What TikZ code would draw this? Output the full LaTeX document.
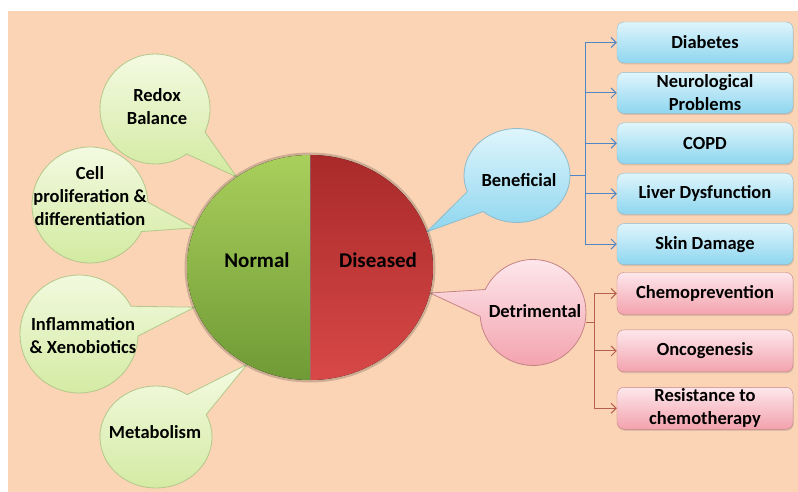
\documentclass[tikz,border=0pt]{standalone}
\usepackage{fontspec}
\setmainfont{Carlito}
\usetikzlibrary{positioning,arrows.meta,shapes.geometric,shapes.callouts,shadows}

\definecolor{peach}{HTML}{FBD4B5}
\definecolor{gtop}{HTML}{F4FAE2}
\definecolor{gbot}{HTML}{D2EAA0}
\definecolor{gbord}{HTML}{B3C88A}
\definecolor{btop}{HTML}{DFF5FC}
\definecolor{bbot}{HTML}{8ED6EF}
\definecolor{bbord}{HTML}{8FBBCB}
\definecolor{rtop}{HTML}{FDE7EC}
\definecolor{rbot}{HTML}{F3A2AD}
\definecolor{rbord}{HTML}{C48484}
\definecolor{bline}{HTML}{4F86C6}
\definecolor{rline}{HTML}{B8604F}
\definecolor{normtop}{HTML}{A9CF5C}
\definecolor{normbot}{HTML}{6F9A35}
\definecolor{distop}{HTML}{A92A2A}
\definecolor{disbot}{HTML}{D84848}

\begin{document}
\begin{tikzpicture}[
  x=1pt, y=-1pt,
  font=\bfseries\fontsize{18.5}{23}\selectfont, >={Straight Barb[length=5pt,width=10pt]},
  gbub/.style={ellipse callout,callout pointer arc=30,draw=gbord,line width=0.8pt,top color=gtop,bottom color=gbot,inner sep=0pt},
  bbub/.style={ellipse callout,callout pointer arc=30,draw=bbord,line width=0.8pt,top color=btop,bottom color=bbot,inner sep=0pt},
  rbub/.style={ellipse callout,callout pointer arc=30,draw=rbord,line width=0.8pt,top color=rtop,bottom color=rbot,inner sep=0pt},
  txt/.style={align=center,inner sep=0pt},
  bbox/.style={draw=bbord,rounded corners=7pt,top color=btop,bottom color=bbot,minimum width=176pt,minimum height=41pt,align=center,inner sep=1pt,
    drop shadow={opacity=0.25,shadow xshift=0.8pt,shadow yshift=-1.5pt}},
  rbox/.style={draw=rbord,rounded corners=7pt,top color=rtop,bottom color=rbot,minimum width=176pt,minimum height=42pt,align=center,inner sep=1pt,
    drop shadow={opacity=0.25,shadow xshift=0.8pt,shadow yshift=-1.5pt}},
  conb/.style={color=bline,line width=1pt},
  conr/.style={color=rline,line width=1pt}
]
\useasboundingbox (0,0) rectangle (798,492);
\fill[white] (0,0) rectangle (798,492);
\fill[peach] (8,11) rectangle (798,492);

% central disc
\node[ellipse,minimum width=246pt,minimum height=225pt,inner sep=0pt] (main) at (310,267.5) {};

% green callouts
\node[gbub,minimum width=110pt,minimum height=110pt,callout absolute pointer={(main.129)}] (redox) at (155,109) {};
\node[gbub,minimum width=116pt,minimum height=116pt,callout absolute pointer={(main.161)}] (cell) at (90,205) {};
\node[gbub,minimum width=118pt,minimum height=118pt,callout absolute pointer={(main.199)}] (infl) at (79,334) {};
\node[gbub,minimum width=112pt,minimum height=102pt,callout absolute pointer={(main.237)}] (metab) at (156,437) {};
\node[txt] (redox-t) at (157,107) {Redox\\Balance};
\node[txt] (cell-t) at (90,196) {Cell\\proliferation \&\\differentiation};
\node[txt] (infl-t) at (83,336) {Inflammation\\\& Xenobiotics};
\node[txt] (metab-t) at (155,432) {Metabolism};

% blue and red callouts
\node[bbub,minimum width=106pt,minimum height=94pt,callout absolute pointer={(main.17)}] (ben) at (517,175.5) {};
\node[rbub,minimum width=106pt,minimum height=106pt,callout absolute pointer={(main.-12)}] (det) at (533,312.5) {};
\node[txt] (ben-t) at (519,180) {Beneficial};
\node[txt] (det-t) at (535,311) {Detrimental};

% the two halves
\fill[black,opacity=0.18] (main.center) ellipse[x radius=125.5,y radius=115];
\begin{scope}
  \clip (main.west |- main.north) rectangle (main.south);
  \fill[top color=normtop,bottom color=normbot] (main.center) ellipse[x radius=123,y radius=112.5];
\end{scope}
\begin{scope}
  \clip (main.south) rectangle (main.east |- main.north);
  \fill[top color=distop,bottom color=disbot] (main.center) ellipse[x radius=123,y radius=112.5];
\end{scope}
\draw[black!50,opacity=0.5,line width=0.8pt] (main.north) -- (main.south);
\node[txt,font=\bfseries\fontsize{21}{25}\selectfont] (nrm) at (257,260) {Normal};
\node[txt,font=\bfseries\fontsize{21}{25}\selectfont] (dis) at (378,260) {Diseased};

% outcome boxes
\node[bbox] (diab) at (705,42.5) {Diabetes};
\node[bbox,below=9pt of diab] (neuro) {Neurological\\Problems};
\node[bbox,below=9pt of neuro] (copd) {COPD};
\node[bbox,below=9pt of copd] (liver) {Liver Dysfunction};
\node[bbox,below=9pt of liver] (skin) {Skin Damage};
\node[rbox] (chemo) at (705,293.5) {Chemoprevention};
\node[rbox,below=15pt of chemo] (onco) {Oncogenesis};
\node[rbox,below=15pt of onco] (resist) {Resistance to\\chemotherapy};

\begin{scope}[conb]
\foreach \b in {diab,neuro,copd,liver,skin}
  \draw[->] (ben.east) -- ++(15.5,0) |- (\b.west);
\end{scope}
\begin{scope}[conr]
\foreach \b in {chemo,onco,resist}
  \draw[->] ([yshift=-10pt]det.east) -- ++(8.5,0) |- (\b.west);
\end{scope}
\end{tikzpicture}
\end{document}
